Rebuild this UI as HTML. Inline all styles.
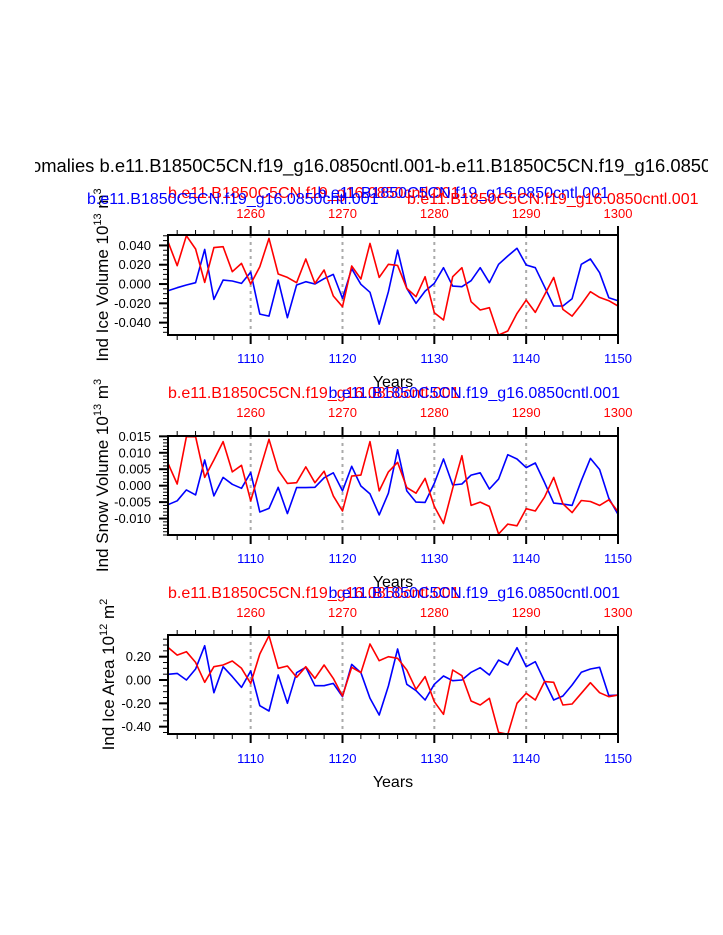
<!DOCTYPE html>
<html><head><meta charset="utf-8"><style>
html,body{margin:0;padding:0;background:#fff;}
svg{display:block;font-family:"Liberation Sans",Arial,sans-serif;}
</style></head><body>
<svg id="chart" width="723" height="935" viewBox="0 0 723 935" xmlns="http://www.w3.org/2000/svg">
<rect x="0" y="0" width="723" height="935" fill="#fff"/>
<defs><clipPath id="vclip"><rect x="35" y="0" width="673" height="935"/></clipPath></defs>
<g clip-path="url(#vclip)">
<text x="31" y="172" font-size="18.4" fill="#000">omalies b.e11.B1850C5CN.f19_g16.0850cntl.001-b.e11.B1850C5CN.f19_g16.0850cntl.001</text>
<g id="plots"></g>
</g>
</svg>
<script>
const years = [];
for (let y = 1101; y <= 1150; y++) years.push(y);
const bottomTicks = [1110, 1120, 1130, 1140, 1150];
const topTickLabels = ["1260", "1270", "1280", "1290", "1300"];
const gridYears = [1110, 1120, 1130, 1140];

const iceVolRed = [0.0439,0.0190,0.0501,0.0363,0.0017,0.0377,0.0387,0.0128,0.0214,0.0000,0.0180,0.0473,0.0104,0.0069,0.0014,0.0259,0.0007,0.0145,-0.0124,-0.0235,0.0187,0.0052,0.0421,0.0069,0.0204,0.0193,-0.0045,-0.0131,0.0076,-0.0297,-0.0373,0.0076,0.0169,-0.0183,-0.0269,-0.0245,-0.0528,-0.0487,-0.0304,-0.0166,-0.0294,-0.0114,0.0069,-0.0263,-0.0332,-0.0211,-0.0079,-0.0138,-0.0173,-0.0228];
const iceVolBlue = [-0.0069,-0.0038,-0.0010,0.0014,0.0359,-0.0159,0.0041,0.0031,0.0007,0.0124,-0.0311,-0.0332,0.0041,-0.0349,-0.0010,0.0024,0.0000,0.0055,0.0100,-0.0149,0.0159,-0.0003,-0.0086,-0.0415,-0.0079,0.0352,-0.0045,-0.0200,-0.0073,0.0007,0.0169,-0.0021,-0.0028,0.0035,0.0169,0.0014,0.0204,0.0290,0.0370,0.0197,0.0169,-0.0028,-0.0228,-0.0228,-0.0152,0.0204,0.0259,0.0117,-0.0142,-0.0173];
const snowRed = [0.0068,0.0005,0.0149,0.0149,0.0025,0.0078,0.0134,0.0042,0.0062,-0.0046,0.0047,0.0141,0.0047,0.0007,0.0009,0.0057,0.0009,0.0044,-0.0031,-0.0077,0.0029,0.0032,0.0134,-0.0016,0.0042,0.0071,-0.0006,-0.0023,0.0022,-0.0063,-0.0115,-0.0008,0.0091,-0.0060,-0.0050,-0.0063,-0.0147,-0.0117,-0.0122,-0.0070,-0.0077,-0.0035,0.0025,-0.0055,-0.0082,-0.0045,-0.0048,-0.0060,-0.0043,-0.0079];
const snowBlue = [-0.0058,-0.0046,-0.0013,-0.0028,0.0078,-0.0031,0.0025,0.0004,-0.0008,0.0040,-0.0080,-0.0069,-0.0005,-0.0085,-0.0006,-0.0006,-0.0005,0.0024,0.0039,-0.0016,0.0059,-0.0001,-0.0025,-0.0089,-0.0023,0.0109,-0.0016,-0.0050,-0.0051,0.0007,0.0081,0.0002,0.0005,0.0032,0.0039,-0.0010,0.0020,0.0094,0.0081,0.0055,0.0069,0.0010,-0.0053,-0.0056,-0.0060,0.0015,0.0083,0.0049,-0.0038,-0.0087];
const areaRed = [0.280,0.214,0.243,0.151,-0.020,0.114,0.129,0.163,0.100,-0.029,0.223,0.380,0.100,0.120,0.023,0.114,0.014,0.129,0.014,-0.137,0.109,0.063,0.309,0.166,0.200,0.186,0.086,-0.080,0.029,-0.186,-0.294,0.086,0.037,-0.180,-0.214,-0.157,-0.449,-0.466,-0.200,-0.114,-0.171,-0.014,-0.020,-0.214,-0.206,-0.114,-0.023,-0.109,-0.143,-0.129];
const areaBlue = [0.049,0.057,0.000,0.094,0.294,-0.109,0.114,0.029,-0.063,0.077,-0.220,-0.266,0.043,-0.200,0.063,0.109,-0.049,-0.049,-0.029,-0.143,0.134,0.063,-0.157,-0.300,-0.051,0.266,-0.037,-0.091,-0.171,-0.037,0.034,-0.006,0.000,0.066,0.106,0.043,0.171,0.129,0.277,0.114,0.157,-0.009,-0.171,-0.137,-0.043,0.066,0.094,0.109,-0.134,-0.129];

const iceVolTicks = [0.04, 0.02, 0, -0.02, -0.04];
const iceVolTickLabels = ["0.040", "0.020", "0.000", "-0.020", "-0.040"];
const snowTicks = [0.015, 0.01, 0.005, 0, -0.005, -0.01];
const snowTickLabels = ["0.015", "0.010", "0.005", "0.000", "-0.005", "-0.010"];
const areaTicks = [0.2, 0, -0.2, -0.4];
const areaTickLabels = ["0.20", "0.00", "-0.20", "-0.40"];

const NS = "http://www.w3.org/2000/svg";
const root = document.getElementById("plots");
function mk(tag, attrs, parent) {
  const e = document.createElementNS(NS, tag);
  for (const k in attrs) e.setAttribute(k, attrs[k]);
  (parent || root).appendChild(e);
  return e;
}
const X0 = 168, X1 = 618, YR0 = 1101, YR1 = 1150;
function xs(yr) { return X0 + (yr - YR0) * (X1 - X0) / (YR1 - YR0); }

const panels = [
  {name:"ice-volume", top:235, bot:335, vmax:0.0508, vmin:-0.0528, red:iceVolRed, blue:iceVolBlue, ticks:iceVolTicks, labels:iceVolTickLabels, minor:0.005, title:"Ind Ice Volume 10", sup1:"13", unit:" m", sup2:"3", titleX:108, topLab:218, botLab:363, years:387, t1:198, t2:204, twoLine:true},
  {name:"snow-volume", top:436, bot:535, vmax:0.0151, vmin:-0.0150, red:snowRed, blue:snowBlue, ticks:snowTicks, labels:snowTickLabels, minor:0.001, title:"Ind Snow Volume 10", sup1:"13", unit:" m", sup2:"3", titleX:108, topLab:417, botLab:563, years:587, t1:398, t2:398, twoLine:false},
  {name:"ice-area", top:635, bot:734, vmax:0.386, vmin:-0.463, red:areaRed, blue:areaBlue, ticks:areaTicks, labels:areaTickLabels, minor:0.05, title:"Ind Ice Area 10", sup1:"12", unit:" m", sup2:"2", titleX:114, topLab:617, botLab:763, years:787, t1:598, t2:598, twoLine:false}
];
const CASE = "b.e11.B1850C5CN.f19_g16.0850cntl.001";

panels.forEach(p => {
  const g = mk("g", {});
  
  
  const ys = v => p.top + (p.vmax - v) * (p.bot - p.top) / (p.vmax - p.vmin);
  gridYears.forEach(yr => {
    const l = mk("line", {x1:xs(yr), x2:xs(yr), y1:p.top, y2:p.bot, stroke:"#aaa", "stroke-width":2, "stroke-dasharray":"3,4"}, g);
    
    
  });
  [[p.blue, "#0000ff", "blue-series"], [p.red, "#ff0000", "red-series"]].forEach(([arr, col, nm]) => {
    const pts = arr.map((v, i) => xs(years[i]).toFixed(1) + "," + ys(v).toFixed(1)).join(" ");
    const pl = mk("polyline", {points:pts, fill:"none", stroke:col, "stroke-width":1.6, "stroke-linejoin":"round"}, g);
    
    
  });
  for (let yr = 1102; yr <= 1150; yr += 2) {
    const major = yr % 10 === 0;
    const len = major ? 9 : 5;
    mk("line", {x1:xs(yr), x2:xs(yr), y1:p.top, y2:p.top - len, stroke:"#000", "stroke-width":major ? 2 : 1}, g);
    mk("line", {x1:xs(yr), x2:xs(yr), y1:p.bot, y2:p.bot + len, stroke:"#000", "stroke-width":major ? 2 : 1}, g);
  }
  bottomTicks.forEach(yr => {
    const t = mk("text", {x:xs(yr), y:p.botLab, "font-size":13, fill:"#0000ff", "text-anchor":"middle"}, g);
    t.textContent = String(yr);
    
    
  });
  topTickLabels.forEach((lab, i) => {
    const t = mk("text", {x:xs(bottomTicks[i]), y:p.topLab, "font-size":13, fill:"#ff0000", "text-anchor":"middle"}, g);
    t.textContent = lab;
    
    
  });
  const nMin = Math.ceil(p.vmin / p.minor - 1e-6), nMax = Math.floor(p.vmax / p.minor + 1e-6);
  for (let k = nMin; k <= nMax; k++) {
    const v = k * p.minor;
    const major = p.ticks.some(t => Math.abs(t - v) < p.minor / 10);
    mk("line", {x1:X0, x2:X0 - (major ? 9 : 5), y1:ys(v), y2:ys(v), stroke:"#000", "stroke-width":major ? 2 : 1}, g);
  }
  p.ticks.forEach((v, i) => {
    const t = mk("text", {x:151, y:ys(v) + 4.5, "font-size":13, fill:"#000", "text-anchor":"end"}, g);
    t.textContent = p.labels[i];
    
    
  });
  const b = mk("rect", {x:X0, y:p.top, width:X1 - X0, height:p.bot - p.top, fill:"none", stroke:"#000", "stroke-width":2}, g);
  
  
  const cy = (p.top + p.bot) / 2 - 10;
  const yt = mk("text", {x:0, y:0, "font-size":17, fill:"#000", "text-anchor":"middle", transform:"translate(" + p.titleX + "," + cy + ") rotate(-90)"}, g);
  
  
  const s0 = mk("tspan", {}, yt); s0.textContent = p.title;
  const s1 = mk("tspan", {dy:-7, "font-size":11}, yt); s1.textContent = p.sup1;
  const s2 = mk("tspan", {dy:7}, yt); s2.textContent = p.unit;
  const s3 = mk("tspan", {dy:-7, "font-size":11}, yt); s3.textContent = p.sup2;
  const xt = mk("text", {x:(X0 + X1) / 2, y:p.years, "font-size":16, fill:"#000", "text-anchor":"middle"}, g);
  xt.textContent = "Years";
  
  
  const r1 = mk("text", {x:168, y:p.t1, "font-size":16, fill:"#ff0000"}, g);
  r1.textContent = CASE;
  
  
  if (p.twoLine) {
    const b1 = mk("text", {x:87, y:p.t2, "font-size":16, fill:"#0000ff"}, g);
    b1.textContent = CASE;
    
    
    const b2 = mk("text", {x:609, y:p.t1, "font-size":16, fill:"#0000ff", "text-anchor":"end"}, g);
    b2.textContent = CASE;
    
    
    const r2 = mk("text", {x:407, y:p.t2, "font-size":16, fill:"#ff0000"}, g);
    r2.textContent = CASE;
    
    
  } else {
    const b2 = mk("text", {x:620, y:p.t1, "font-size":16, fill:"#0000ff", "text-anchor":"end"}, g);
    b2.textContent = CASE;
    
    
  }
});
</script>
</body></html>
